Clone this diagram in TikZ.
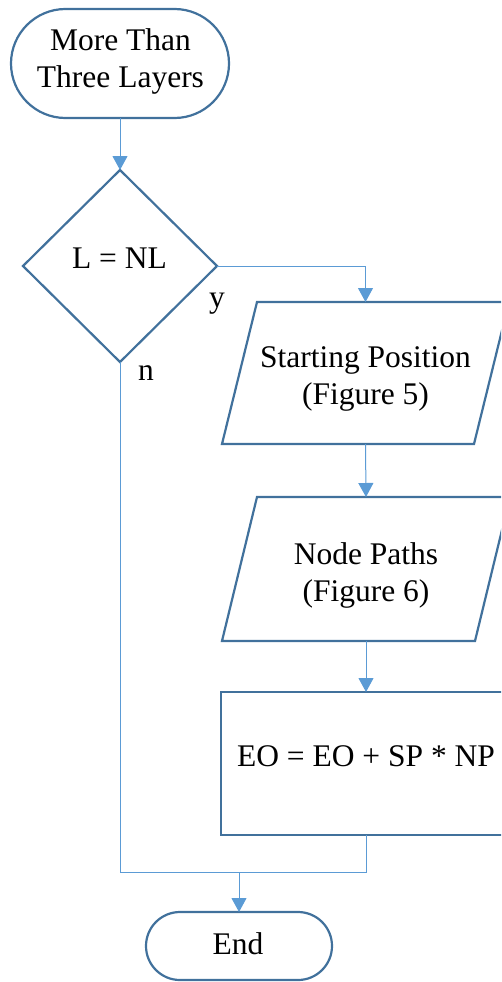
\documentclass[tikz,border=0pt]{standalone}
\usepackage{fontspec}
\setmainfont{Liberation Serif}
\usetikzlibrary{shapes.geometric,shapes.misc,arrows.meta}

\definecolor{shapeblue}{HTML}{41719C}
\definecolor{linkblue}{HTML}{5B9BD5}

\tikzset{
  shapeline/.style={draw=shapeblue, line width=2.2pt, fill=white, inner sep=0pt, outer sep=0pt},
  terminal/.style={shapeline, rounded rectangle},
  decision/.style={shapeline, diamond},
  process/.style={shapeline, rectangle},
  iobody/.style={rectangle, inner sep=0pt, outer sep=0pt},
  txt/.style={inner sep=0pt, font=\fontsize{31.5}{37}\selectfont, align=center},
  link/.style={draw=linkblue, line width=1pt},
  arrowlink/.style={link, -{Triangle[width=15pt,length=14pt]}},
}

\begin{document}
\begin{tikzpicture}[x=1pt,y=-1pt]
\useasboundingbox (0,0) rectangle (501,982);
\clip (0,0) rectangle (501,982);

% shapes
\node[terminal, minimum width=218pt, minimum height=109pt] (start) at (120,63.5) {};
\node[decision, minimum width=194pt, minimum height=192pt] (test) at (120,266) {};
\node[iobody, minimum width=287pt, minimum height=142pt] (sp) at (365.5,373) {};
\node[iobody, minimum width=288pt, minimum height=144pt] (np) at (366,569) {};
\node[process, minimum width=290pt, minimum height=143pt] (calc) at (366,763.5) {};
\node[terminal, minimum width=186pt, minimum height=68pt] (stop) at (239,946) {};

% parallelograms for the two input steps
\draw[shapeline] ([xshift=35pt]sp.north west) -- (sp.north east)
  -- ([xshift=-35pt]sp.south east) -- (sp.south west) -- cycle;
\draw[shapeline] ([xshift=35pt]np.north west) -- (np.north east)
  -- ([xshift=-35pt]np.south east) -- (np.south west) -- cycle;

% texts
\node[txt, anchor=north] (starttxt) at (120.5,28) {More Than\\Three Layers};
\node[txt, anchor=base] (testtxt) at (119.5,268) {L = NL};
\node[txt, anchor=north] (sptxt) at (365.5,346) {Starting Position\\(Figure 5)};
\node[txt, anchor=north] (nptxt) at (366,542) {Node Paths\\(Figure 6)};
\node[txt, anchor=base] (calctxt) at (366,766) {EO = EO + SP * NP};
\node[txt, anchor=base] (stoptxt) at (238,954) {End};
\node[txt, anchor=base] (ylabel) at (217,307) {y};
\node[txt, anchor=base] (nlabel) at (146,380) {n};

% connectors
\coordinate (join) at (239,872);
\draw[arrowlink] (start.south) -- (test.north);
\draw[arrowlink] (test.east) -| (sp.north);
\draw[arrowlink] (sp.south) -- (np.north);
\draw[arrowlink] (np.south) -- (calc.north);
\draw[link] (test.south) |- (join);
\draw[link] (calc.south) |- (join);
\draw[arrowlink] (join) -- (stop.north);
\end{tikzpicture}
\end{document}
